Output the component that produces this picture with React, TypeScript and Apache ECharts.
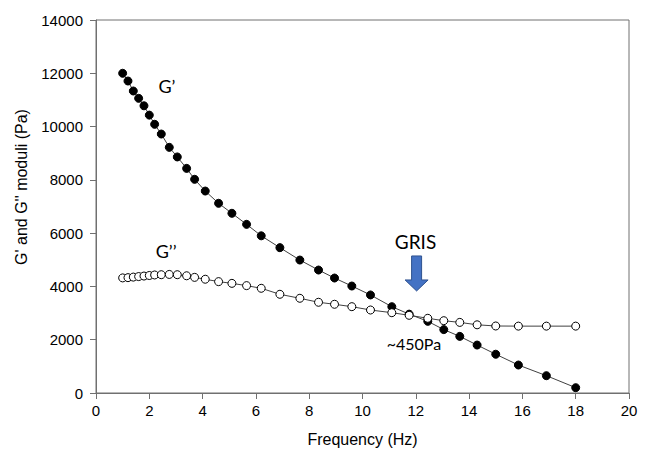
import React, { useEffect, useRef } from "react";
import * as echarts from "echarts";

const frequency = [1.0, 1.2, 1.4, 1.6, 1.8, 2.0, 2.2, 2.45, 2.75, 3.05, 3.4, 3.7, 4.1, 4.6, 5.1, 5.65, 6.2, 6.9, 7.65, 8.35, 8.95, 9.6, 10.3, 11.1, 11.75, 12.45, 13.05, 13.65, 14.3, 15.0, 15.85, 16.9, 18.0];
const gPrime = [12000, 11710, 11335, 11060, 10780, 10430, 10085, 9720, 9220, 8860, 8430, 8020, 7580, 7120, 6745, 6330, 5900, 5455, 4990, 4615, 4315, 4015, 3680, 3240, 2960, 2690, 2380, 2125, 1800, 1455, 1050, 650, 200];
const gDoublePrime = [4320, 4330, 4350, 4370, 4390, 4410, 4430, 4440, 4450, 4440, 4400, 4340, 4270, 4180, 4115, 4030, 3930, 3705, 3555, 3405, 3330, 3240, 3115, 3014, 2916, 2804, 2714, 2650, 2560, 2515, 2510, 2510, 2510];
const xTicks = { min: 0, max: 20, interval: 2 };
const yTicks = { min: 0, max: 14000, interval: 2000 };

const AXIS_FONT = "'Liberation Sans', Arial, sans-serif";
const NOTE_FONT = "Lato, 'Noto Sans', sans-serif";

export default function App() {
  const ref = useRef<HTMLDivElement>(null);
  useEffect(() => {
    document.body.style.margin = "0";
    if (!ref.current) return;
    const chart = echarts.init(ref.current, null, { renderer: "svg" });
    const axisCommon = {
      axisLine: { show: true, lineStyle: { color: "#707070", width: 1 } },
      axisTick: { show: true, inside: false, length: 6, lineStyle: { color: "#707070" } },
      splitLine: { show: false },
    };
    chart.setOption({
      animation: false,
      backgroundColor: "#ffffff",
      grid: { left: 96, right: 20, top: 20, bottom: 62, show: true, borderColor: "#707070", borderWidth: 1 },
      xAxis: {
        type: "value",
        ...xTicks,
        ...axisCommon,
        name: "Frequency (Hz)",
        nameLocation: "middle",
        nameGap: 38,
        nameTextStyle: { fontFamily: AXIS_FONT, fontSize: 16, color: "#000" },
        axisLabel: { fontFamily: AXIS_FONT, fontSize: 15, color: "#000", margin: 10, formatter: (v: number) => String(v) },
      },
      yAxis: {
        type: "value",
        ...yTicks,
        ...axisCommon,
        axisLabel: { fontFamily: AXIS_FONT, fontSize: 15, color: "#000", margin: 13, formatter: (v: number) => String(v) },
      },
      series: [
        {
          name: "G'",
          type: "line",
          data: frequency.map((f, i) => [f, gPrime[i]]),
          symbol: "circle",
          symbolSize: 8,
          lineStyle: { color: "#404040", width: 1 },
          itemStyle: { color: "#000000", borderColor: "#000000", borderWidth: 1 },
          z: 2,
        },
        {
          name: "G''",
          type: "line",
          data: frequency.map((f, i) => [f, gDoublePrime[i]]),
          symbol: "circle",
          symbolSize: 8,
          lineStyle: { color: "#404040", width: 1 },
          itemStyle: { color: "#ffffff", borderColor: "#000000", borderWidth: 1 },
          z: 3,
        },
      ],
    });

    const p = (x: number, y: number) => chart.convertToPixel({ gridIndex: 0 }, [x, y]) as number[];
    const gp = p(2.66, 11520);
    const gpp = p(2.63, 5330);
    const gris = p(11.99, 5680);
    const tip = p(12.03, 3830);
    const note = p(11.93, 1840);
    const [tx, ty] = tip;
    chart.setOption({
      graphic: [
        {
          type: "text",
          x: 21,
          y: 187,
          rotation: Math.PI / 2,
          style: { text: "G' and G'' moduli (Pa)", fontFamily: AXIS_FONT, fontSize: 16, fill: "#000", align: "center", verticalAlign: "middle" },
        },
        { type: "text", x: gp[0], y: gp[1], style: { text: "G’", fontFamily: NOTE_FONT, fontSize: 18, fill: "#000", align: "center", verticalAlign: "middle" } },
        { type: "text", x: gpp[0], y: gpp[1], style: { text: "G’’", fontFamily: NOTE_FONT, fontSize: 18, fill: "#000", align: "center", verticalAlign: "middle" } },
        { type: "text", x: gris[0], y: gris[1], style: { text: "GRIS", fontFamily: NOTE_FONT, fontSize: 19, fill: "#000", align: "center", verticalAlign: "middle" } },
        { type: "text", x: note[0], y: note[1], style: { text: "~450Pa", fontFamily: NOTE_FONT, fontSize: 16, fill: "#000", align: "center", verticalAlign: "middle" } },
        {
          type: "polygon",
          shape: {
            points: [
              [tx - 5, ty - 35],
              [tx + 5, ty - 35],
              [tx + 5, ty - 11],
              [tx + 11.5, ty - 11],
              [tx, ty],
              [tx - 11.5, ty - 11],
              [tx - 5, ty - 11],
            ],
          },
          style: { fill: "#4472C4", stroke: "#2F528F", lineWidth: 1 },
        },
      ],
    });
    return () => chart.dispose();
  }, []);
  return <div ref={ref} style={{ width: 649, height: 455 }} />;
}
